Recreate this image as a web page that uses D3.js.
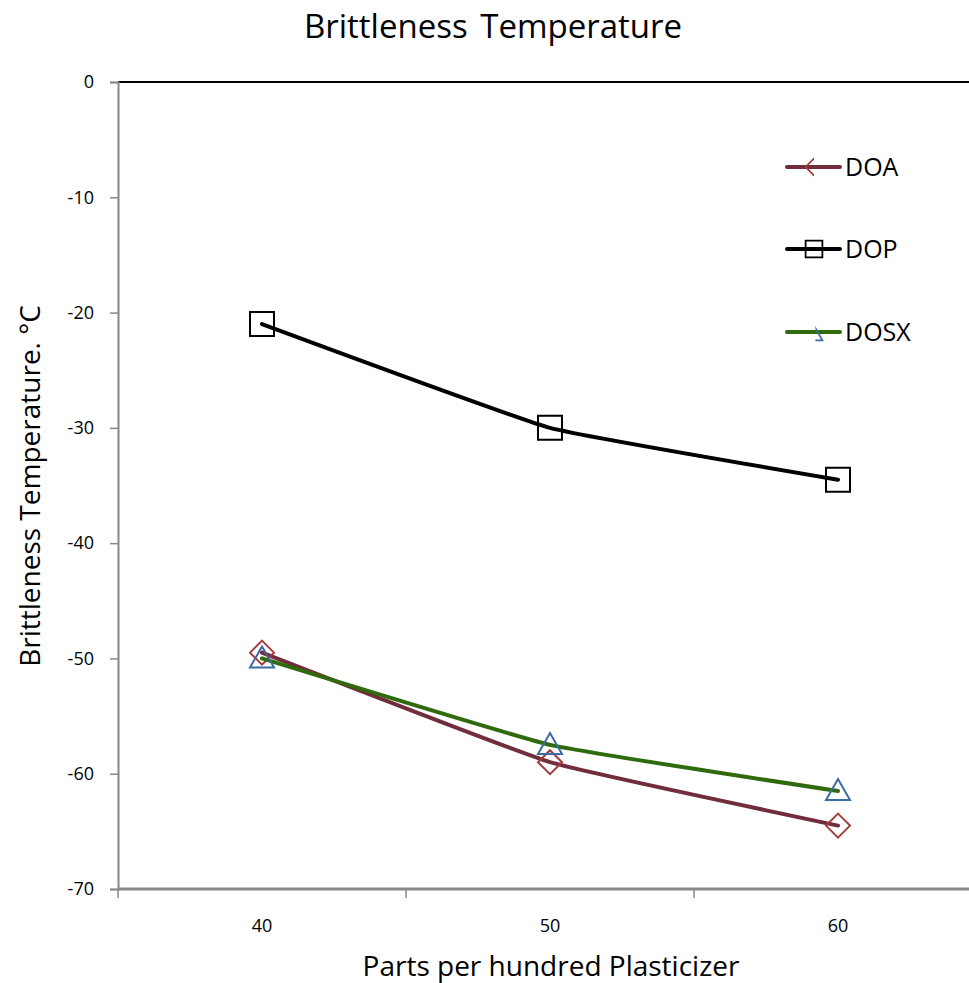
<!DOCTYPE html>
<html>
<head>
<meta charset="utf-8">
<script src="https://cdn.jsdelivr.net/npm/d3@7"></script>
<style>
  body { margin: 0; background: #fff; }
  text { font-family: "Open Sans", "Noto Sans", sans-serif; fill: #000; }
</style>
</head>
<body>
<div id="chart"></div>
<script>
// data
var categories = [40, 50, 60];
var doa  = [-49.5, -59, -64.5];
var dop  = [-21, -30, -34.5];
var dosx = [-50, -57.5, -61.5];
var yTicks = [0, -10, -20, -30, -40, -50, -60, -70];

var width = 969, height = 983;

var svg = d3.select("#chart").append("svg")
    .attr("width", width)
    .attr("height", height);

var x = d3.scaleBand()
    .domain(categories)
    .range([118, 982]);

var y = d3.scaleLinear()
    .domain([-70, 0])
    .range([889, 82]);

var series = [
  { name: "DOA",  values: doa,  line: "#722d3c", marker: "#a23c3c", shape: "diamond" },
  { name: "DOP",  values: dop,  line: "#000000", marker: "#000000", shape: "square" },
  { name: "DOSX", values: dosx, line: "#2f6a0c", marker: "#3d6ba3", shape: "triangle" }
];

// title
svg.append("text")
    .attr("x", 493).attr("y", 38)
    .attr("text-anchor", "middle")
    .style("font-size", "33px")
    .style("word-spacing", "4px")
    .text("Brittleness Temperature");

// top border line
svg.append("line")
    .attr("x1", 118).attr("x2", width)
    .attr("y1", y(0)).attr("y2", y(0))
    .attr("stroke", "#000").attr("stroke-width", 2);

// y axis
var yAxis = svg.append("g")
    .attr("transform", "translate(118,0)")
    .call(d3.axisLeft(y).tickValues(yTicks).tickSize(8).tickPadding(16)
      .tickFormat(function(d) { return String(d); }));
yAxis.select(".domain").attr("stroke", "#888").attr("stroke-width", 2);
yAxis.selectAll(".tick line").attr("stroke", "#888").attr("stroke-width", 1.5);
yAxis.selectAll(".tick text")
    .style("font-size", "18px")
    .style("font-family", "'Open Sans', sans-serif")
    .attr("fill", "#000");

// x axis
var xg = svg.append("g");
xg.append("line")
    .attr("x1", 118).attr("x2", 982)
    .attr("y1", y(-70)).attr("y2", y(-70))
    .attr("stroke", "#888").attr("stroke-width", 3);
var edges = categories.map(function(c) { return x(c); }).concat([x(categories[categories.length - 1]) + x.bandwidth()]);
xg.selectAll(".xt")
    .data(edges)
  .enter().append("line")
    .attr("x1", function(d) { return d; }).attr("x2", function(d) { return d; })
    .attr("y1", y(-70)).attr("y2", y(-70) + 9)
    .attr("stroke", "#888").attr("stroke-width", 1.5);
xg.selectAll(".xl")
    .data(categories)
  .enter().append("text")
    .attr("x", function(d) { return x(d) + x.bandwidth() / 2; })
    .attr("y", 932)
    .attr("text-anchor", "middle")
    .style("font-size", "18px")
    .text(function(d) { return d; });

// axis titles
svg.append("text")
    .attr("x", 551).attr("y", 976)
    .attr("text-anchor", "middle")
    .style("font-size", "28px")
    .text("Parts per hundred Plasticizer");

svg.append("text")
    .attr("transform", "translate(40,486) rotate(-90)")
    .attr("text-anchor", "middle")
    .style("font-size", "28px")
    .text("Brittleness Temperature. \u00b0C");

// lines
var line = d3.line()
    .x(function(d, i) { return x(categories[i]) + x.bandwidth() / 2; })
    .y(function(d) { return y(d); })
    .curve(d3.curveCardinal.tension(0.7));

function markerPath(shape) {
  if (shape === "square") return "M-12,-12H12V12H-12Z";
  if (shape === "diamond") return "M0,-12L12,0L0,12L-12,0Z";
  return "M0,-12L12,9H-12Z";
}

series.forEach(function(s) {
  svg.append("path")
      .datum(s.values)
      .attr("d", line)
      .attr("fill", "none")
      .attr("stroke", s.line)
      .attr("stroke-width", 4)
      .attr("stroke-linecap", "round");

  svg.selectAll(".m-" + s.name)
      .data(s.values)
    .enter().append("path")
      .attr("transform", function(d, i) {
        return "translate(" + (x(categories[i]) + x.bandwidth() / 2) + "," + y(d) + ")";
      })
      .attr("d", markerPath(s.shape))
      .attr("fill", "none")
      .attr("stroke", s.marker)
      .attr("stroke-width", 2);
});

// legend
var defs = svg.append("defs");
defs.append("clipPath").attr("id", "clipLeft")
  .append("rect").attr("x", -14).attr("y", -14).attr("width", 14).attr("height", 28);
defs.append("clipPath").attr("id", "clipRight")
  .append("rect").attr("x", 2).attr("y", -14).attr("width", 14).attr("height", 28);

var legendY = [167, 249, 332];
var lg = svg.selectAll(".legend")
    .data(series)
  .enter().append("g")
    .attr("transform", function(d, i) { return "translate(787," + legendY[i] + ")"; });

lg.append("line")
    .attr("x1", 0).attr("x2", 53)
    .attr("stroke", function(d) { return d.line; })
    .attr("stroke-width", 4)
    .attr("stroke-linecap", "round");

lg.append("path")
    .attr("transform", function(d) { return "translate(27," + (d.shape === "triangle" ? 2 : 0) + ") scale(0.7)"; })
    .attr("d", function(d) { return markerPath(d.shape); })
    .attr("clip-path", function(d) {
      if (d.shape === "diamond") return "url(#clipLeft)";
      if (d.shape === "triangle") return "url(#clipRight)";
      return null;
    })
    .attr("fill", "none")
    .attr("stroke", function(d) { return d.marker; })
    .attr("stroke-width", 2.5);

lg.append("text")
    .attr("x", 58).attr("y", 9)
    .style("font-size", "25px")
    .text(function(d) { return d.name; });
</script>
</body>
</html>
